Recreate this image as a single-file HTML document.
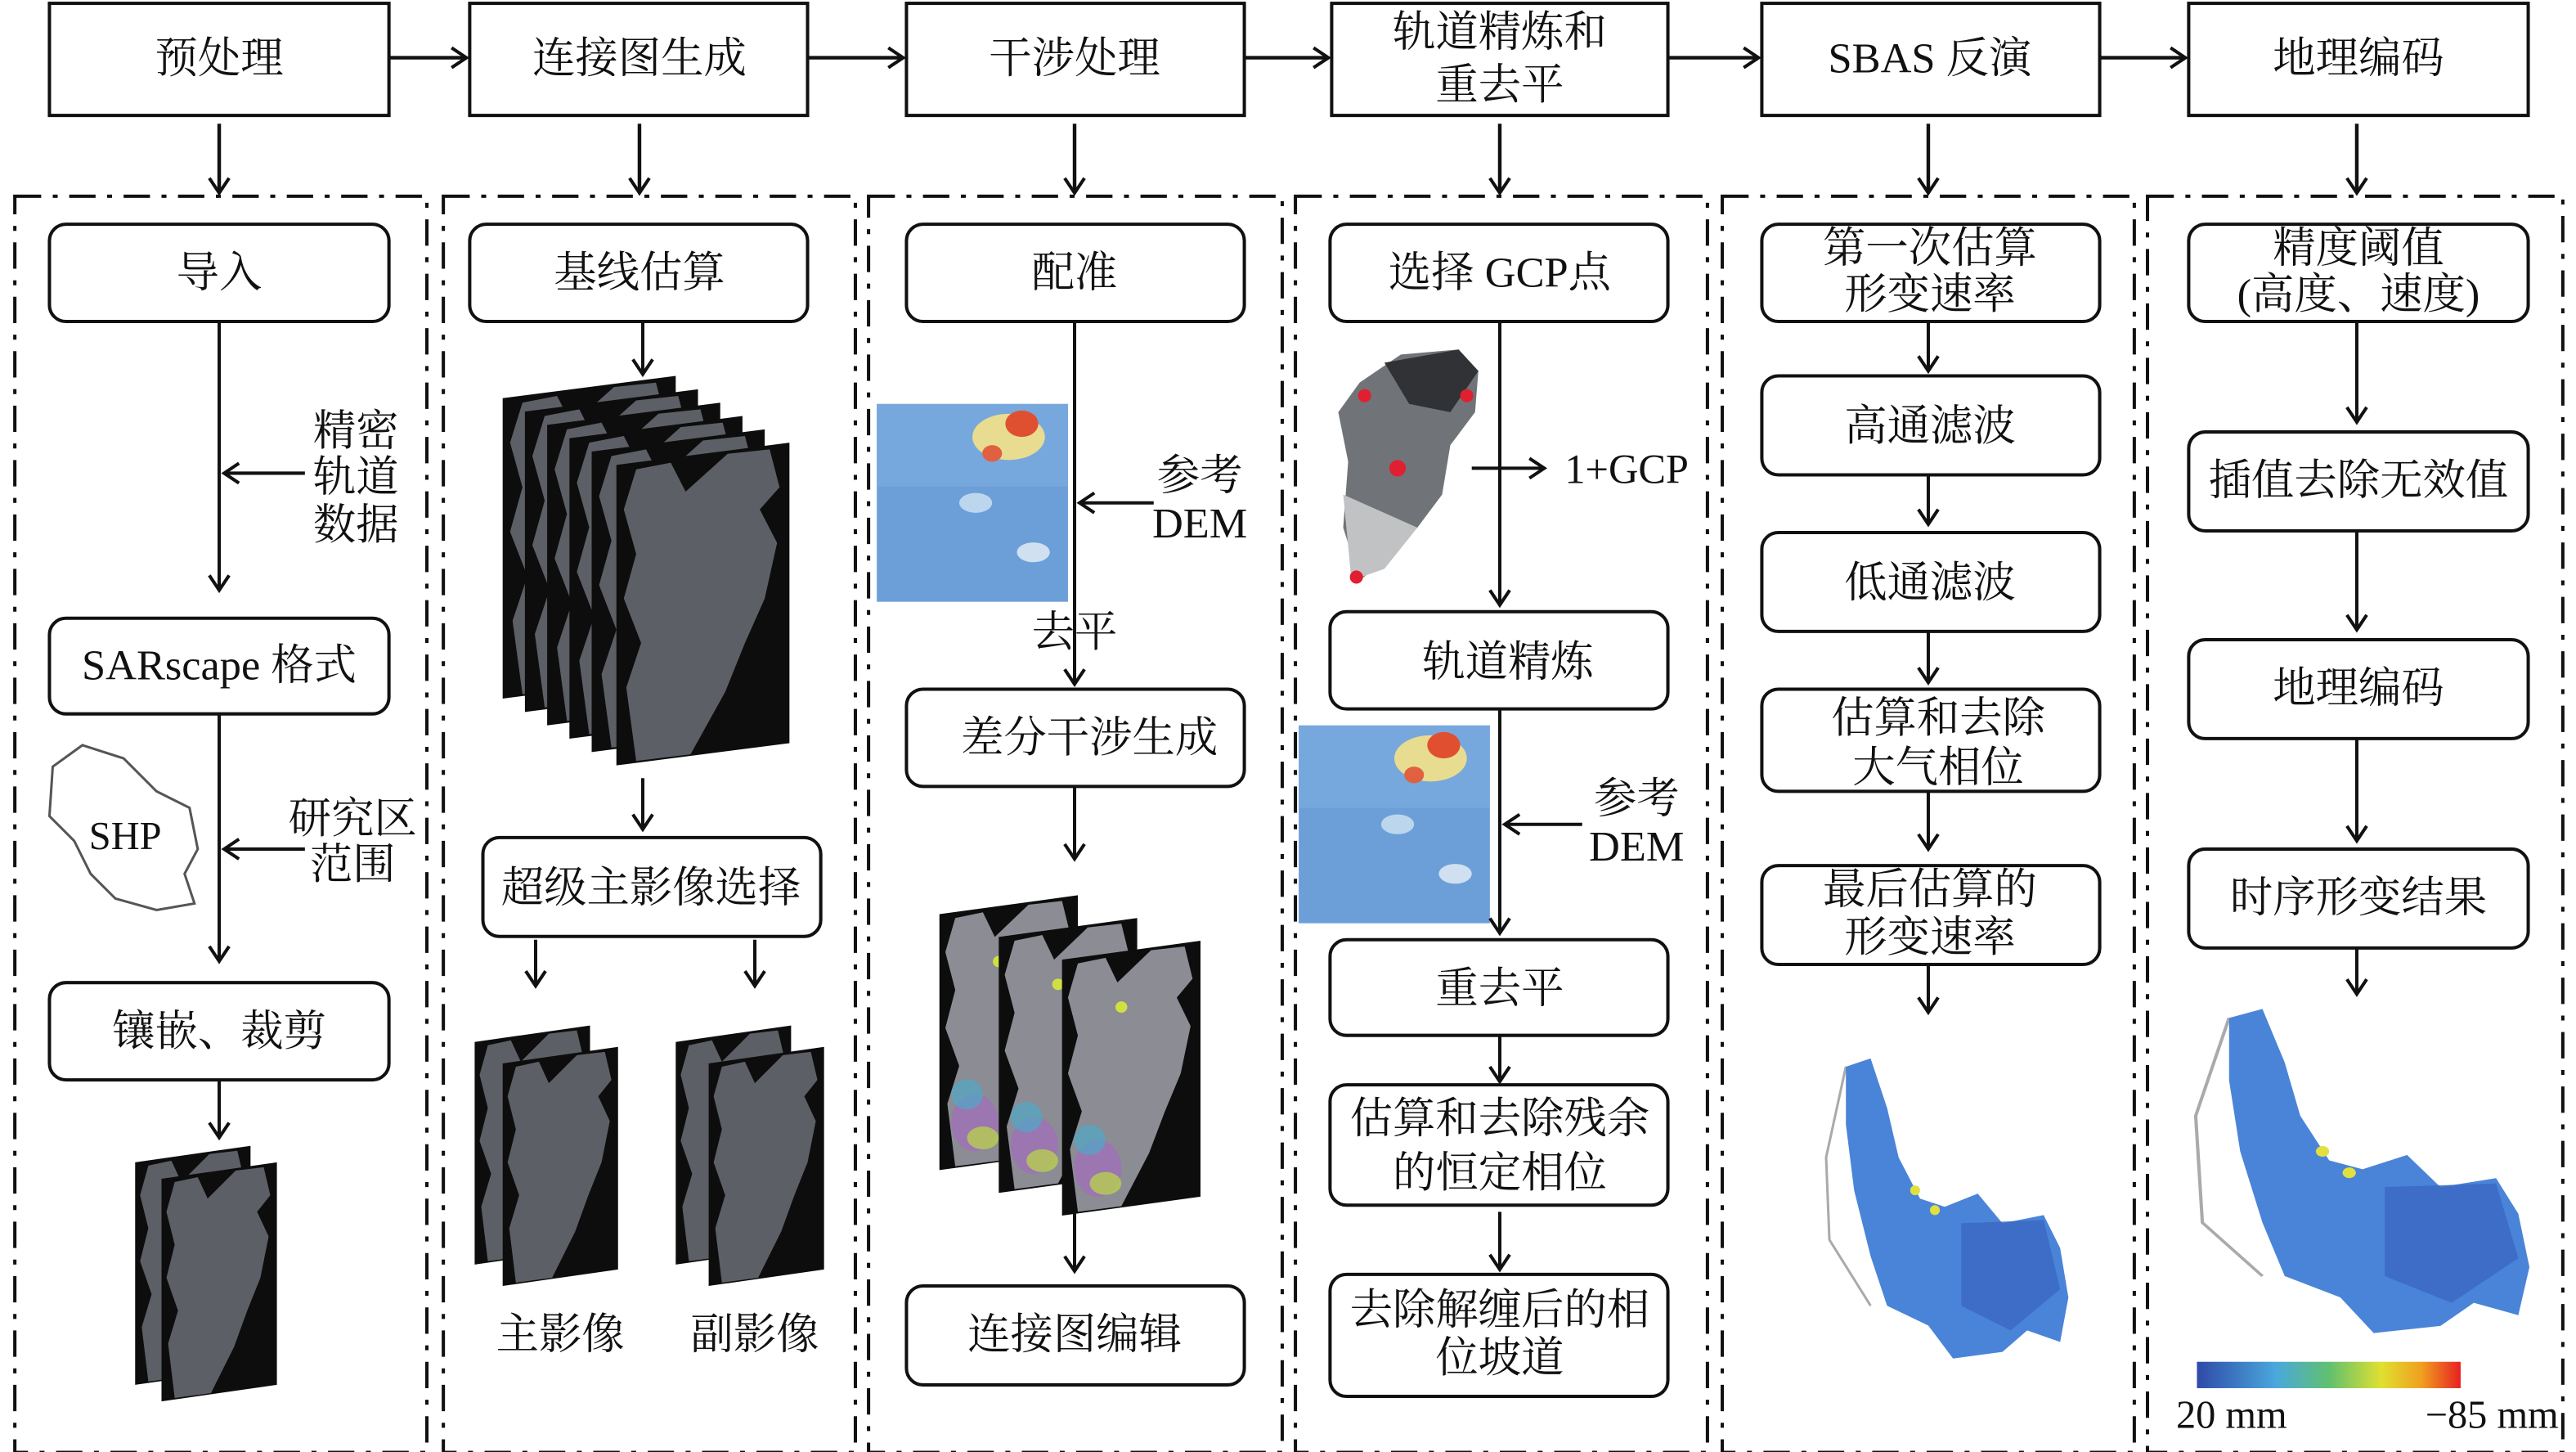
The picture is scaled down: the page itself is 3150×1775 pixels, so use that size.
<!DOCTYPE html>
<html><head><meta charset="utf-8">
<style>
html,body{margin:0;padding:0;background:#fff;}
svg{display:block;}
text{font-family:"Liberation Serif","Noto Serif CJK SC",serif;fill:#111;}
</style></head>
<body>
<svg width="3150" height="1775" viewBox="0 0 1563 880.7" xmlns="http://www.w3.org/2000/svg">
<defs>
<marker id="ar" markerWidth="14" markerHeight="14" refX="11" refY="7" orient="auto" markerUnits="userSpaceOnUse">
<path d="M2,1 L11,7 L2,13" fill="none" stroke="#111" stroke-width="2"/>
</marker>
<g id="sar">
<polygon points="0,10 70,0 70,135 0,145" fill="#0d0d0d"/>
<polygon points="8,12 22,9 28,22 45,5 62,3 66,20 58,30 65,45 60,70 52,90 44,112 30,140 8,143 4,110 10,90 3,70 8,50 3,30" fill="#5c5f65"/>
</g>
<g id="ifg">
<polygon points="0,10 70,0 70,135 0,145" fill="#0d0d0d"/>
<polygon points="8,12 22,9 28,22 45,5 62,3 66,20 58,30 65,45 60,70 52,90 44,112 30,140 8,143 4,110 10,90 3,70 8,50 3,30" fill="#8c8c94"/>
<ellipse cx="18" cy="120" rx="12" ry="15" fill="#a070b8" opacity="0.8"/>
<ellipse cx="22" cy="128" rx="8" ry="6" fill="#b8d050" opacity="0.8"/>
<ellipse cx="14" cy="105" rx="8" ry="8" fill="#50a8c8" opacity="0.7"/>
<circle cx="30" cy="35" r="3" fill="#d0e040"/>
</g>
<g id="dem">
<rect x="0" y="0" width="116" height="120" fill="#6c9fd8"/>
<rect x="0" y="0" width="116" height="50" fill="#7aaade" opacity="0.8"/>
<ellipse cx="80" cy="20" rx="22" ry="14" fill="#e8dc90"/>
<ellipse cx="88" cy="12" rx="10" ry="8" fill="#e05030"/>
<ellipse cx="70" cy="30" rx="6" ry="5" fill="#e06040"/>
<ellipse cx="60" cy="60" rx="10" ry="6" fill="#bcd6ee"/>
<ellipse cx="95" cy="90" rx="10" ry="6" fill="#d0e0f0"/>
</g>
<g id="vmap">
<polygon points="30,5 45,0 55,30 62,60 75,85 90,90 110,82 125,100 150,95 160,115 165,145 160,172 140,165 125,178 95,182 80,162 55,150 45,120 35,80 30,40" fill="#4a84d8"/>
<polygon points="100,100 150,98 160,140 130,165 100,150" fill="#3b68c4" opacity="0.85"/>
<circle cx="72" cy="80" r="3" fill="#e0e040"/>
<circle cx="84" cy="92" r="3" fill="#e0e040"/>
</g>
</defs>

<g fill="none" stroke="#111" stroke-width="2">
<rect x="30" y="2" width="206" height="68"/>
<rect x="285" y="2" width="205" height="68"/>
<rect x="550" y="2" width="205" height="68"/>
<rect x="808" y="2" width="204" height="68"/>
<rect x="1069" y="2" width="205" height="68"/>
<rect x="1328" y="2" width="206" height="68"/>
</g>
<g stroke="#111" stroke-width="2.2" marker-end="url(#ar)">
<line x1="236" y1="35" x2="283" y2="35"/>
<line x1="490" y1="35" x2="548" y2="35"/>
<line x1="755" y1="35" x2="806" y2="35"/>
<line x1="1012" y1="35" x2="1067" y2="35"/>
<line x1="1274" y1="35" x2="1326" y2="35"/>
<line x1="133" y1="75" x2="133" y2="117"/>
<line x1="388" y1="75" x2="388" y2="117"/>
<line x1="652" y1="75" x2="652" y2="117"/>
<line x1="910" y1="75" x2="910" y2="117"/>
<line x1="1170" y1="75" x2="1170" y2="117"/>
<line x1="1430" y1="75" x2="1430" y2="117"/>
</g>
<g font-size="26" text-anchor="middle">
<text x="133" y="44">预处理</text>
<text x="388" y="44">连接图生成</text>
<text x="652" y="44">干涉处理</text>
<text x="910" y="28">轨道精炼和</text>
<text x="910" y="60">重去平</text>
<text x="1171" y="44">SBAS 反演</text>
<text x="1431" y="44">地理编码</text>
</g>

<g fill="none" stroke="#111" stroke-width="2" stroke-dasharray="16,7,3,7">
<rect x="9" y="119" width="250" height="762"/>
<rect x="269" y="119" width="250" height="762"/>
<rect x="527" y="119" width="251" height="762"/>
<rect x="786" y="119" width="250" height="762"/>
<rect x="1045" y="119" width="250" height="762"/>
<rect x="1303" y="119" width="252" height="762"/>
</g>

<g fill="none" stroke="#111" stroke-width="2">
<rect x="30" y="136" width="206" height="59" rx="10"/>
<rect x="30" y="375" width="206" height="58" rx="10"/>
<rect x="30" y="596" width="206" height="59" rx="10"/>
<rect x="285" y="136" width="205" height="59" rx="10"/>
<rect x="293" y="508" width="205" height="60" rx="10"/>
<rect x="550" y="136" width="205" height="59" rx="10"/>
<rect x="550" y="418" width="205" height="59" rx="10"/>
<rect x="550" y="780" width="205" height="60" rx="10"/>
<rect x="807" y="136" width="205" height="59" rx="10"/>
<rect x="807" y="371" width="205" height="59" rx="10"/>
<rect x="807" y="570" width="205" height="58" rx="10"/>
<rect x="807" y="658" width="205" height="73" rx="10"/>
<rect x="807" y="773" width="205" height="74" rx="10"/>
<rect x="1069" y="136" width="205" height="59" rx="10"/>
<rect x="1069" y="228" width="205" height="60" rx="10"/>
<rect x="1069" y="323" width="205" height="60" rx="10"/>
<rect x="1069" y="418" width="205" height="62" rx="10"/>
<rect x="1069" y="525" width="205" height="60" rx="10"/>
<rect x="1328" y="136" width="206" height="59" rx="10"/>
<rect x="1328" y="262" width="206" height="60" rx="10"/>
<rect x="1328" y="388" width="206" height="60" rx="10"/>
<rect x="1328" y="515" width="206" height="60" rx="10"/>
</g>

<use href="#sar" x="82" y="695"/>
<use href="#sar" x="98" y="705"/>
<g transform="translate(305,228) scale(1.5,1.35)">
<use href="#sar" x="0" y="0"/><use href="#sar" x="9" y="6"/><use href="#sar" x="18" y="12"/>
<use href="#sar" x="27" y="18"/><use href="#sar" x="36" y="24"/><use href="#sar" x="46" y="30"/>
</g>
<use href="#sar" x="288" y="622"/>
<use href="#sar" x="305" y="635"/>
<use href="#sar" x="410" y="622"/>
<use href="#sar" x="430" y="635"/>
<g transform="translate(570,543) scale(1.2,1.15)">
<use href="#ifg" x="0" y="0"/><use href="#ifg" x="30" y="12"/><use href="#ifg" x="62" y="24"/>
</g>
<use href="#dem" x="532" y="245"/>
<use href="#dem" x="788" y="440"/>
<polygon points="825,232 850,215 885,212 897,225 895,250 880,270 875,300 860,320 840,340 825,352 815,320 818,280 812,250" fill="#707478"/>
<polygon points="840,220 885,212 897,225 880,250 855,245" fill="#303236"/>
<polygon points="815,300 860,320 840,345 820,352" fill="#c0c2c4"/>
<circle cx="848" cy="284" r="5" fill="#e02030"/><circle cx="828" cy="240" r="4" fill="#e02030"/><circle cx="890" cy="240" r="4" fill="#e02030"/><circle cx="823" cy="350" r="4" fill="#e02030"/>
<path d="M32,465 L50,452 L75,460 L95,480 L115,490 L120,515 L112,530 L118,548 L95,552 L70,545 L55,530 L45,510 L30,495 Z" fill="none" stroke="#555" stroke-width="1.5"/>
<g transform="translate(1090,642)"><path d="M30,5 L18,60 L20,110 L45,150" fill="none" stroke="#aaa" stroke-width="1.5"/><use href="#vmap"/></g>
<g transform="translate(1312,612) scale(1.35,1.08)"><path d="M30,5 L15,60 L18,120 L45,150" fill="none" stroke="#aaa" stroke-width="1.5"/><use href="#vmap"/></g>
<defs><linearGradient id="cb" x1="0" x2="1"><stop offset="0" stop-color="#2f4aa8"/><stop offset="0.3" stop-color="#4aa8dc"/><stop offset="0.5" stop-color="#60c070"/><stop offset="0.7" stop-color="#e0e030"/><stop offset="0.85" stop-color="#f0a020"/><stop offset="1" stop-color="#e82020"/></linearGradient></defs>
<rect x="1333" y="826" width="160" height="16" fill="url(#cb)"/>

<g stroke="#111" stroke-width="2" fill="none">
<line x1="133" y1="195" x2="133" y2="358" marker-end="url(#ar)"/>
<line x1="185" y1="287" x2="136" y2="287" marker-end="url(#ar)"/>
<line x1="133" y1="433" x2="133" y2="583" marker-end="url(#ar)"/>
<line x1="185" y1="515" x2="136" y2="515" marker-end="url(#ar)"/>
<line x1="133" y1="655" x2="133" y2="690" marker-end="url(#ar)"/>
<line x1="390" y1="195" x2="390" y2="227" marker-end="url(#ar)"/>
<line x1="390" y1="472" x2="390" y2="503" marker-end="url(#ar)"/>
<line x1="325" y1="570" x2="325" y2="598" marker-end="url(#ar)"/>
<line x1="458" y1="570" x2="458" y2="598" marker-end="url(#ar)"/>
<line x1="652" y1="195" x2="652" y2="415" marker-end="url(#ar)"/>
<line x1="700" y1="305" x2="655" y2="305" marker-end="url(#ar)"/>
<line x1="652" y1="477" x2="652" y2="521" marker-end="url(#ar)"/>
<line x1="652" y1="735" x2="652" y2="771" marker-end="url(#ar)"/>
<line x1="910" y1="195" x2="910" y2="367" marker-end="url(#ar)"/>
<line x1="893" y1="284" x2="937" y2="284" marker-end="url(#ar)"/>
<line x1="910" y1="430" x2="910" y2="566" marker-end="url(#ar)"/>
<line x1="960" y1="500" x2="913" y2="500" marker-end="url(#ar)"/>
<line x1="910" y1="628" x2="910" y2="656" marker-end="url(#ar)"/>
<line x1="910" y1="735" x2="910" y2="770" marker-end="url(#ar)"/>
<line x1="1170" y1="195" x2="1170" y2="225" marker-end="url(#ar)"/>
<line x1="1170" y1="288" x2="1170" y2="318" marker-end="url(#ar)"/>
<line x1="1170" y1="383" x2="1170" y2="414" marker-end="url(#ar)"/>
<line x1="1170" y1="480" x2="1170" y2="515" marker-end="url(#ar)"/>
<line x1="1170" y1="585" x2="1170" y2="614" marker-end="url(#ar)"/>
<line x1="1430" y1="195" x2="1430" y2="256" marker-end="url(#ar)"/>
<line x1="1430" y1="322" x2="1430" y2="382" marker-end="url(#ar)"/>
<line x1="1430" y1="448" x2="1430" y2="510" marker-end="url(#ar)"/>
<line x1="1430" y1="575" x2="1430" y2="603" marker-end="url(#ar)"/>
</g>

<g font-size="26" text-anchor="middle">
<text x="133" y="174">导入</text>
<text x="133" y="412">SARscape 格式</text>
<text x="133" y="634">镶嵌、裁剪</text>
<text x="216" y="270">精密</text>
<text x="216" y="298">轨道</text>
<text x="216" y="327">数据</text>
<text x="214" y="505">研究区</text>
<text x="214" y="533">范围</text>
<text x="76" y="515" font-size="24">SHP</text>
<text x="388" y="174">基线估算</text>
<text x="395" y="547">超级主影像选择</text>
<text x="340" y="818">主影像</text>
<text x="458" y="818">副影像</text>
<text x="652" y="174">配准</text>
<text x="728" y="297">参考</text>
<text x="728" y="326">DEM</text>
<text x="652" y="392">去平</text>
<text x="661" y="456">差分干涉生成</text>
<text x="652" y="818">连接图编辑</text>
<text x="910" y="174">选择 GCP点</text>
<text x="987" y="293" font-size="25">1+GCP</text>
<text x="915" y="410">轨道精炼</text>
<text x="993" y="493">参考</text>
<text x="993" y="522">DEM</text>
<text x="910" y="608">重去平</text>
<text x="910" y="687">估算和去除残余</text>
<text x="910" y="720">的恒定相位</text>
<text x="910" y="803">去除解缠后的相</text>
<text x="910" y="832">位坡道</text>
<text x="1171" y="159">第一次估算</text>
<text x="1171" y="187">形变速率</text>
<text x="1171" y="267">高通滤波</text>
<text x="1171" y="362">低通滤波</text>
<text x="1176" y="444">估算和去除</text>
<text x="1176" y="474">大气相位</text>
<text x="1171" y="548">最后估算的</text>
<text x="1171" y="577">形变速率</text>
<text x="1431" y="159">精度阈值</text>
<text x="1431" y="187">(高度、速度)</text>
<text x="1431" y="300">插值去除无效值</text>
<text x="1431" y="426">地理编码</text>
<text x="1431" y="553">时序形变结果</text>
<text x="1354" y="866" font-size="24">20 mm</text>
<text x="1512" y="866" font-size="24">−85 mm</text>
</g>
</svg>
</body></html>
